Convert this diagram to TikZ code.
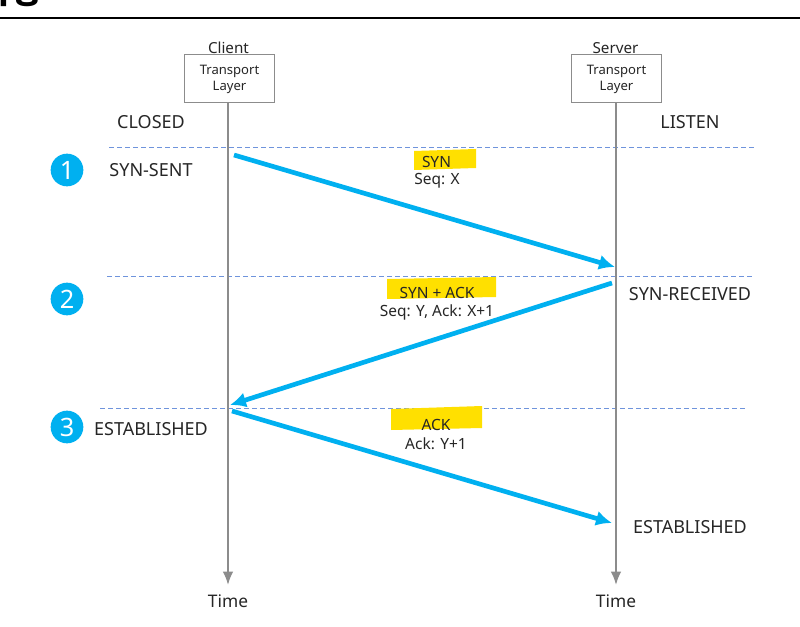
\documentclass[tikz,border=0pt]{standalone}
\usepackage{fontspec}
\setmainfont{Noto Sans}
\newfontfamily\krfont{Noto Sans CJK KR}
\usetikzlibrary{arrows.meta}
\definecolor{cyanarrow}{HTML}{00B0F0}
\definecolor{dashblue}{HTML}{6F94DC}
\definecolor{hl}{HTML}{FFE000}
\definecolor{lifeline}{HTML}{8C8C8C}
\definecolor{txt}{HTML}{262626}
\tikzset{
  x=0.75pt,y=-0.75pt,
  state/.style={font=\fontsize{13.5}{15}\selectfont,text=txt,inner sep=0pt,anchor=center},
  small/.style={font=\fontsize{11.6}{12}\selectfont,text=txt,inner sep=0pt,anchor=center},
  head/.style={font=\fontsize{11.4}{12}\selectfont,text=txt,inner sep=0pt,anchor=center},
  timel/.style={font=\fontsize{13}{14}\selectfont,text=txt,inner sep=0pt,anchor=center},
  tiny/.style={font=\fontsize{9.8}{12}\selectfont,text=txt,inner sep=0pt,align=center},
  boxn/.style={draw=lifeline,line width=0.75pt,fill=white,minimum width=68pt,minimum height=36pt,inner sep=0pt,tiny},
  life/.style={draw=lifeline,line width=1.6pt,-{Latex[length=10pt,width=8pt]}},
  msg/.style={draw=cyanarrow,line width=3.5pt,-{Latex[length=12pt,width=11.5pt]}},
  dashl/.style={draw=dashblue,line width=0.7pt,dash pattern=on 4pt off 2pt},
  badge/.style={circle,fill=cyanarrow,text=white,minimum size=24.5pt,inner sep=0pt,font=\bfseries\fontsize{19}{20}\selectfont},
  hlbox/.style={fill=hl,draw=none}
}
\begin{document}
\begin{tikzpicture}
\useasboundingbox (0,0) rectangle (800,627);
\fill[white] (0,0) rectangle (800,627);
% cropped title
\begin{scope}
\clip (0,0) rectangle (800,9);
\node[anchor=west,inner sep=0pt,font=\krfont\bfseries\fontsize{25}{28}\selectfont] (title) at (-20,-9) {과정};
\end{scope}
\coordinate (ruleL) at (0,18); \coordinate (ruleR) at (800,18);
\draw[line width=1.7pt,black] (ruleL) -- (ruleR);
% dashed
\coordinate (d1a) at (109,147); \coordinate (d1b) at (756,147);
\coordinate (d2a) at (107,276); \coordinate (d2b) at (752,276);
\coordinate (d3a) at (100,408); \coordinate (d3b) at (747,408);
\draw[dashl] (d1a) -- (d1b);
\draw[dashl] (d2a) -- (d2b);
\draw[dashl] (d3a) -- (d3b);
% boxes
\node[head] (clientlabel) at (228.5,48) {Client};
\node[head] (serverlabel) at (615.5,48) {Server};
\node[boxn] (client) at (229.5,79) {Transport\\Layer};
\node[boxn] (server) at (616.5,79) {Transport\\Layer};
\node[timel] (timec) at (228,601) {Time};
\node[timel] (times) at (616,601) {Time};
\coordinate (cend) at (228,585); \coordinate (send) at (616,585);
\draw[life] (228,103) -- (cend);
\draw[life] (616,103) -- (send);
% highlights
\fill[hlbox] (414,151) -- (476,149) -- (476,168) -- (414,170) -- cycle;
\fill[hlbox] (387,279) -- (496,277) -- (496,297) -- (387,299) -- cycle;
\fill[hlbox] (391,409) -- (482,406) -- (482,428) -- (391,430) -- cycle;
% arrows
\coordinate (m1a) at (234,155); \coordinate (m1b) at (615,267);
\coordinate (m2a) at (612,283); \coordinate (m2b) at (230,405);
\coordinate (m3a) at (232,411); \coordinate (m3b) at (612,523);
\draw[msg] (m1a) -- (m1b);
\draw[msg] (m2a) -- (m2b);
\draw[msg] (m3a) -- (m3b);
% labels
\node[small] (syn) at (436.5,162) {SYN};
\node[small] (seqx) at (437,181) {Seq: X};
\node[small] (synack) at (437,293) {SYN + ACK};
\node[small] (seqy) at (437,312) {Seq: Y, Ack: X+1};
\node[small] (ack) at (436,425) {ACK};
\node[small] (acky) at (436,444) {Ack: Y+1};
\node[state] (closed) at (151,122) {CLOSED};
\node[state] (listen) at (690,122) {LISTEN};
\node[state] (synsent) at (151,170) {SYN-SENT};
\node[state] (synrec) at (690,294) {SYN-RECEIVED};
\node[state] (est1) at (151,429) {ESTABLISHED};
\node[state] (est2) at (690,527) {ESTABLISHED};
\node[badge] (b1) at (67,170) {1};
\node[badge] (b2) at (67,299) {2};
\node[badge] (b3) at (67,427) {3};
\end{tikzpicture}
\end{document}
